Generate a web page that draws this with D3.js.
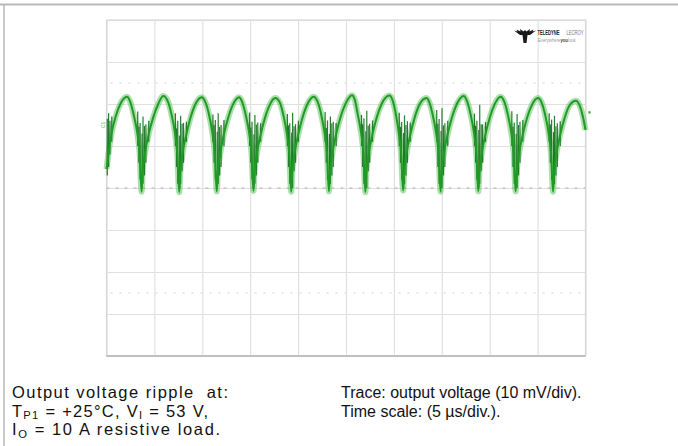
<!DOCTYPE html>
<html>
<head>
<meta charset="utf-8">
<script src="https://cdn.jsdelivr.net/npm/d3@7"></script>
<style>
body { margin: 0; background: #fff; }
svg { display: block; font-family: "Liberation Sans", Arial, Helvetica, sans-serif; }
text { white-space: pre; }
</style>
</head>
<body>
<div id="scope"></div>
<script>
// grid divisions: 5 us/div, 10 mV/div
const timeTicks = [0, 5, 10, 15, 20, 25, 30, 35, 40, 45, 50];
const voltTicks = [-40, -30, -20, -10, 0, 10, 20, 30, 40];
const markerLevels = [-25, 25];

// output voltage trace (us, mV)
const traceTime = [
    0, 0.49, 0.94, 1.44, 2.15, 2.46, 2.86, 3.21, 3.46, 3.66,
    3.78, 4.01, 4.41, 4.86, 5.36, 5.92, 6.39, 6.79, 7.14, 7.39, 7.59,
    7.71, 7.94, 8.34, 8.79, 9.29, 9.94, 10.31, 10.71, 11.06, 11.31, 11.51,
    11.63, 11.86, 12.26, 12.71, 13.21, 13.84, 14.14, 14.54, 14.89, 15.14, 15.34,
    15.46, 15.69, 16.09, 16.54, 17.04, 17.61, 18.08, 18.48, 18.83, 19.08, 19.28,
    19.40, 19.63, 20.03, 20.48, 20.98, 21.61, 22.02, 22.42, 22.77, 23.02, 23.22,
    23.34, 23.57, 23.97, 24.42, 24.92, 25.63, 25.92, 26.22, 26.57, 26.82, 27.02,
    27.14, 27.37, 27.77, 28.22, 28.72, 29.53, 29.86, 30.21, 30.51, 30.76, 30.96,
    31.08, 31.31, 31.71, 32.16, 32.66, 33.40, 33.70, 34.07, 34.42, 34.67, 34.87,
    34.99, 35.22, 35.62, 36.07, 36.57, 37.30, 37.61, 38.01, 38.36, 38.61, 38.81,
    38.93, 39.16, 39.56, 40.01, 40.51, 41.14, 41.51, 41.91, 42.26, 42.51, 42.71,
    42.83, 43.06, 43.46, 43.91, 44.41, 45.04, 45.41, 45.81, 46.16, 46.41, 46.61,
    46.73, 46.96, 47.36, 47.81, 48.31, 49.00, 49.40, 49.75, 50.0
];
const traceVolt = [
    4.5, 12.6, 16.9, 20.0, 21.7, 20.6, 17.2, 13.1, 8.2, -0.9,
    4.1, 8.2, 12.9, 16.7, 19.8, 21.9, 20.7, 17.5, 13.2, 8.1, -1.0,
    4.0, 8.3, 12.8, 16.9, 20.0, 21.6, 20.5, 17.4, 13.0, 8.0, -0.8,
    4.2, 8.0, 12.9, 16.8, 19.9, 21.6, 20.6, 17.3, 13.1, 8.1, -0.7,
    4.0, 8.1, 12.7, 16.7, 19.8, 21.4, 20.4, 17.2, 12.9, 8.0, -0.9,
    4.1, 8.2, 12.9, 16.9, 20.0, 21.7, 20.6, 17.4, 13.0, 8.1, -0.8,
    4.0, 8.1, 12.8, 16.8, 19.9, 22.1, 21.0, 17.6, 13.2, 8.2, -1.0,
    4.2, 8.2, 12.9, 16.9, 20.0, 22.0, 20.9, 17.5, 13.1, 8.1, -0.6,
    4.1, 8.1, 12.7, 16.7, 19.8, 21.4, 20.4, 17.2, 12.9, 8.0, -0.9,
    4.0, 8.2, 12.9, 16.9, 20.0, 21.9, 20.8, 17.5, 13.1, 8.1, -0.8,
    4.1, 8.1, 12.8, 16.8, 19.9, 21.7, 20.6, 17.3, 13.0, 8.0, -0.8,
    4.0, 8.1, 12.8, 16.8, 19.8, 21.4, 20.4, 17.2, 12.9, 8.0, -0.9,
    4.1, 8.1, 12.7, 16.6, 19.6, 20.8, 19.6, 16.8, 13.8
];

// switching spikes clustered around each trough (us, low mV, high mV)
const spikeTime = [
    0.08, 0.22, 0.36, 0.55,
    3.26, 3.38, 3.51, 3.71, 3.81, 3.96, 4.11, 4.41,
    7.19, 7.31, 7.44, 7.64, 7.74, 7.89, 8.04, 8.34,
    11.11, 11.23, 11.36, 11.56, 11.66, 11.81, 11.96, 12.26,
    14.94, 15.06, 15.19, 15.39, 15.49, 15.64, 15.79, 16.09,
    18.88, 19.00, 19.13, 19.33, 19.43, 19.58, 19.73, 20.03,
    22.82, 22.94, 23.07, 23.27, 23.37, 23.52, 23.67, 23.97,
    26.62, 26.74, 26.87, 27.07, 27.17, 27.32, 27.47, 27.77,
    30.56, 30.68, 30.81, 31.01, 31.11, 31.26, 31.41, 31.71,
    34.47, 34.59, 34.72, 34.92, 35.02, 35.17, 35.32, 35.62,
    38.41, 38.53, 38.66, 38.86, 38.96, 39.11, 39.26, 39.56,
    42.31, 42.43, 42.56, 42.76, 42.86, 43.01, 43.16, 43.46,
    46.21, 46.33, 46.46, 46.66, 46.76, 46.91, 47.06, 47.36
];
const spikeLow = [
    3, 5, 8, 11,
    10, 6, 2, 0, 1, 3, 6, 11,
    10, 5, 1, 0, 1, 4, 6, 11,
    11, 6, 2, 0, 1, 3, 5, 10,
    10, 6, 2, 0, 1, 3, 6, 11,
    10, 5, 1, 0, 0, 4, 6, 11,
    11, 6, 2, 0, 1, 3, 5, 10,
    10, 5, 1, 0, 0, 4, 6, 11,
    10, 6, 2, 0, 1, 3, 6, 11,
    11, 5, 1, 0, 0, 3, 5, 10,
    10, 6, 2, 0, 1, 4, 6, 11,
    10, 5, 1, 0, 0, 3, 6, 11,
    11, 6, 2, 0, 1, 3, 5, 10
];
const spikeHigh = [
    16.5, 17.8, 16.0, 17.0,
    18.2, 14.6, 15.5, 13.0, 17.0, 14.8, 15.2, 16.0,
    17.8, 14.2, 16.0, 12.5, 17.2, 15.3, 15.5, 15.8,
    17.5, 15.0, 16.2, 13.4, 17.8, 14.6, 15.0, 16.2,
    18.0, 14.4, 15.8, 12.8, 17.4, 15.1, 15.6, 15.4,
    17.6, 14.9, 15.4, 13.2, 17.9, 14.7, 15.2, 16.0,
    18.1, 14.3, 16.1, 12.9, 17.0, 15.4, 15.8, 15.5,
    17.4, 15.2, 16.6, 13.5, 18.4, 14.8, 15.3, 16.1,
    17.9, 14.5, 15.7, 13.1, 17.3, 15.0, 15.9, 15.6,
    18.6, 15.3, 16.4, 13.6, 19.0, 14.9, 15.4, 16.0,
    17.7, 14.8, 16.0, 13.8, 19.8, 15.2, 15.1, 15.7,
    18.3, 14.6, 15.6, 12.9, 17.6, 15.0, 15.8, 16.2,
    17.8, 15.1, 16.3, 13.3, 17.2, 14.7, 15.4, 15.9
];

const captionLeft = [
    [['Output voltage ripple  at:']],
    [['T'], ['P1', 'sub'], [' = +25°C, V'], ['I', 'sub'], [' = 53 V,']],
    [['I'], ['O', 'sub'], [' = 10 A resistive load.']]
];
const captionLeftWidth = [216, 196, 208];
const captionRight = [
    [['Trace: output voltage (10 mV/div).']],
    [['Time scale: (5 µs/div.).']]
];

let buildScope = function() {
    let width = 678, height = 446;
    let screen = { left: 106.5, right: 585.5, top: 20, bottom: 356 };

    let svg = d3.select('#scope').append('svg')
        .attr('width', width)
        .attr('height', height);

    // page frame
    svg.append('line').attr('x1', 0).attr('x2', width).attr('y1', 4.5).attr('y2', 4.5)
        .attr('stroke', '#b9b9b9').attr('stroke-width', 2);
    svg.append('line').attr('x1', 4).attr('x2', 4).attr('y1', 4).attr('y2', height)
        .attr('stroke', '#b9b9b9').attr('stroke-width', 1.5);

    let x = d3.scaleLinear().domain([0, 50]).range([screen.left, screen.right]);
    let y = d3.scaleLinear().domain([-40, 40]).range([screen.bottom, screen.top]);

    // grid from the axes
    let xGrid = svg.append('g')
        .attr('transform', 'translate(0,' + screen.bottom + ')')
        .call(d3.axisBottom(x).tickValues(timeTicks).tickSize(-(screen.bottom - screen.top)).tickFormat(''));
    let yGrid = svg.append('g')
        .attr('transform', 'translate(' + screen.left + ',0)')
        .call(d3.axisLeft(y).tickValues(voltTicks).tickSize(-(screen.right - screen.left)).tickFormat(''));
    xGrid.select('.domain').remove();
    yGrid.select('.domain').remove();
    svg.selectAll('.tick line').attr('stroke', '#e0e0e0').attr('stroke-width', 1.2);

    // screen border, bottom edge darker
    svg.append('rect')
        .attr('x', screen.left).attr('y', screen.top)
        .attr('width', screen.right - screen.left).attr('height', screen.bottom - screen.top)
        .attr('fill', 'none').attr('stroke', '#d8d8d8').attr('stroke-width', 1.2);
    svg.append('line')
        .attr('x1', screen.left).attr('x2', screen.right)
        .attr('y1', screen.bottom).attr('y2', screen.bottom)
        .attr('stroke', '#b4b4b4').attr('stroke-width', 1.5);

    // dotted marker levels and dashed centre line
    markerLevels.forEach(function(v) {
        svg.append('line')
            .attr('x1', screen.left + 4).attr('x2', screen.right - 4)
            .attr('y1', y(v)).attr('y2', y(v))
            .attr('stroke', '#d6d6d6').attr('stroke-width', 1.2)
            .attr('stroke-dasharray', '2,7');
    });
    svg.append('line')
        .attr('x1', screen.left).attr('x2', screen.right)
        .attr('y1', y(0)).attr('y2', y(0))
        .attr('stroke', '#b0b0b0').attr('stroke-width', 1)
        .attr('stroke-dasharray', '3,6');

    let points = traceTime.map(function(t, i) { return [t, traceVolt[i]]; });
    let line = d3.line()
        .x(function(d) { return x(d[0]); })
        .y(function(d) { return y(d[1]); })
        .curve(d3.curveMonotoneX);

    // noisy band around the trace
    svg.append('path').attr('d', line(points))
        .attr('fill', 'none').attr('stroke', '#58c058')
        .attr('stroke-width', 6).attr('opacity', 0.5);

    // spikes
    spikeTime.forEach(function(t, i) {
        svg.append('line')
            .attr('x1', x(t)).attr('x2', x(t))
            .attr('y1', y(spikeLow[i])).attr('y2', y(spikeHigh[i]))
            .attr('stroke', '#10701a').attr('stroke-width', 1.2)
            .attr('opacity', 0.9);
    });

    svg.append('path').attr('d', line(points))
        .attr('fill', 'none').attr('stroke', '#1f9a24')
        .attr('stroke-width', 2);

    // channel markers
    svg.append('text')
        .attr('transform', 'translate(' + (screen.left - 2) + ',' + y(15) + ') rotate(-90)')
        .attr('text-anchor', 'middle')
        .attr('font-size', 5).attr('fill', '#58b858').text('C1');
    svg.append('circle')
        .attr('cx', screen.right + 4).attr('cy', y(18)).attr('r', 1.3)
        .attr('fill', '#58b858');

    // scope logo
    svg.append('path')
        .attr('d', 'M514,30.5 L517.5,31.5 L516.5,29.5 L520.5,31.5 L520,29 L523.5,31.5 L525,30 ' +
            'L526.5,31.5 L530,29 L529.5,31.5 L533.5,29.5 L532.5,31.5 L536,30.5 L530,35 L527.5,35 ' +
            'L526.5,43 L523.5,43 L522.5,35 L520,35 Z')
        .attr('fill', '#1a1a1a');
    svg.append('text')
        .attr('transform', 'translate(537.5,35) scale(0.8,1.25)')
        .attr('font-size', 5.2).attr('font-weight', 'bold').attr('fill', '#222')
        .text('TELEDYNE');
    svg.append('text')
        .attr('transform', 'translate(566.5,35) scale(0.8,1.25)')
        .attr('font-size', 5.2).attr('fill', '#777')
        .text('LECROY');
    svg.append('text')
        .attr('transform', 'translate(538,41.5) scale(0.85,1.1)')
        .attr('font-size', 5)
        .call(function(t) {
            t.append('tspan').attr('fill', '#999').text('Everywhere');
            t.append('tspan').attr('fill', '#444').attr('font-weight', 'bold').text('you');
            t.append('tspan').attr('fill', '#999').text('look');
        });

    // captions
    let writeLines = function(lines, x0, y0, step, size, widths) {
        lines.forEach(function(parts, i) {
            let text = svg.append('text')
                .attr('x', x0).attr('y', y0 + i * step)
                .attr('font-size', size).attr('fill', '#111');
            if (widths) {
                text.attr('textLength', widths[i]).attr('lengthAdjust', 'spacing');
            }
            parts.forEach(function(p, j) {
                let span = text.append('tspan').text(p[0]);
                if (p[1] === 'sub') {
                    span.attr('font-size', size * 0.68).attr('dy', 2.5);
                } else if (j > 0) {
                    span.attr('dy', -2.5);
                }
            });
        });
    };
    writeLines(captionLeft, 12, 398, 18.5, 16.5, captionLeftWidth);
    writeLines(captionRight, 341, 398, 18.5, 16, null);
};

buildScope();
</script>
</body>
</html>
